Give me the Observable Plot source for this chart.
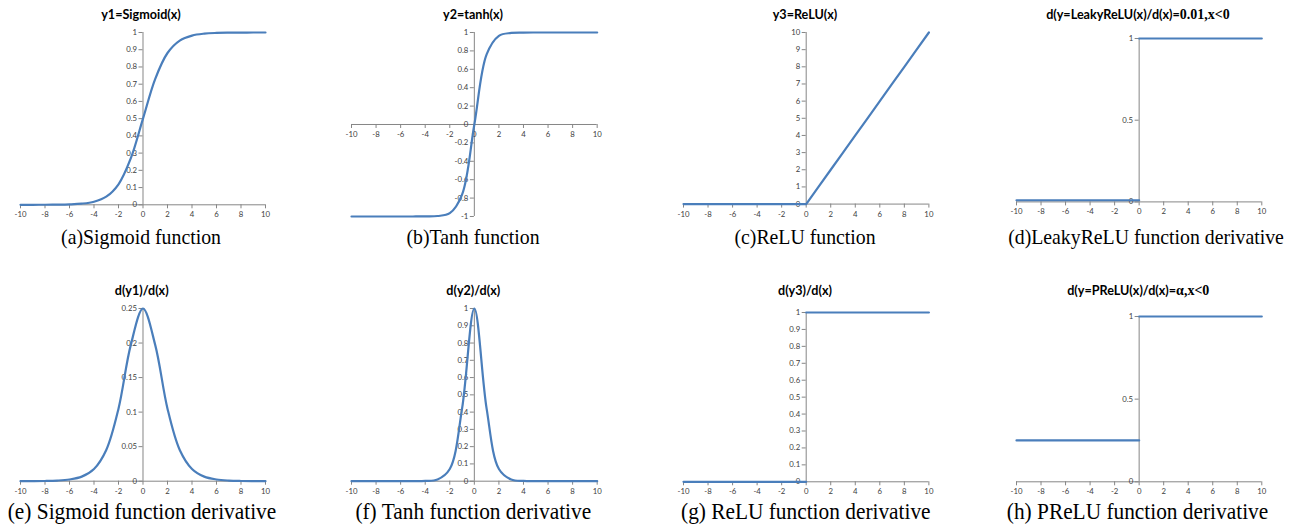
<!DOCTYPE html>
<html>
<head>
<meta charset="utf-8">
<script src="https://cdn.jsdelivr.net/npm/d3@7"></script>
<script src="https://cdn.jsdelivr.net/npm/@observablehq/plot@0.6"></script>
<style>
  html, body { margin: 0; padding: 0; background: #fff; }
  #root { position: relative; width: 1299px; height: 528px; overflow: hidden; background: #fff; }
  #root svg.panel { position: absolute; }
  #overlay { position: absolute; left: 0; top: 0; pointer-events: none; }
</style>
</head>
<body>
<div id="root"></div>
<script>
// ---------------- data ----------------
const xs = [-10,-9,-8,-7,-6,-5,-4,-3,-2,-1,0,1,2,3,4,5,6,7,8,9,10];
const sigmoidY = [0.00005,0.0001,0.0003,0.0009,0.0025,0.0067,0.018,0.047,0.119,0.269,0.5,0.731,0.881,0.953,0.982,0.9933,0.9975,0.9991,0.9997,0.9999,1.0];
const tanhY = [-1,-1,-1,-1,-1,-0.9999,-0.999,-0.995,-0.964,-0.762,0,0.762,0.964,0.995,0.999,0.9999,1,1,1,1,1];
const reluY = [0,0,0,0,0,0,0,0,0,0,0,1,2,3,4,5,6,7,8,9,10];
const dSigmoidY = [0.00005,0.0001,0.0003,0.0009,0.0025,0.0066,0.0177,0.0452,0.105,0.197,0.25,0.197,0.105,0.0452,0.0177,0.0066,0.0025,0.0009,0.0003,0.0001,0.00005];
const dTanhY = [0,0,0,0,0,0.0002,0.0013,0.0099,0.0707,0.42,1,0.42,0.0707,0.0099,0.0013,0.0002,0,0,0,0,0];

const stepX = [-10, 0, 0, 10];
const stepSeg = ["neg", "neg", "pos", "pos"];
const dLeakyY = [0.01, 0.01, 1, 1];
const dReluY = [0, 0, 1, 1];
const dPreluY = [0.25, 0.25, 1, 1];

const xTicks = [-10,-8,-6,-4,-2,0,2,4,6,8,10];
const yTicksSigmoid = [0,0.1,0.2,0.3,0.4,0.5,0.6,0.7,0.8,0.9,1];
const yTicksTanh = [-1,-0.8,-0.6,-0.4,-0.2,0,0.2,0.4,0.6,0.8,1];
const yTicksRelu = [0,1,2,3,4,5,6,7,8,9,10];
const yTicksHalf = [0,0.5,1];
const yTicksDSigmoid = [0,0.05,0.1,0.15,0.2,0.25];

const titles = ["y1=Sigmoid(x)", "y2=tanh(x)", "y3=ReLU(x)", "d(y=LeakyReLU(x)/d(x)=", "d(y1)/d(x)", "d(y2)/d(x)", "d(y3)/d(x)", "d(y=PReLU(x)/d(x)="];
const titleTails = ["", "", "", "0.01,x<0", "", "", "", "\u03b1,x<0"];
const captions = ["(a)Sigmoid function", "(b)Tanh function", "(c)ReLU function", "(d)LeakyReLU function derivative",
                  "(e) Sigmoid function derivative", "(f) Tanh function derivative", "(g) ReLU function derivative", "(h) PReLU function derivative"];

// ---------------- style / layout ----------------
const BLUE = "#4a7ebb";
const GRAY = "#868686";
const LABEL = "#404040";

const panels = [
  {frame: [20, 265, 31.7, 204], yDomain: [0, 1], yTicks: yTicksSigmoid, kind: "curve", y: sigmoidY},
  {frame: [351, 596.7, 31.7, 215.7], yDomain: [-1, 1], yTicks: yTicksTanh, kind: "curve", y: tanhY},
  {frame: [683.3, 928.7, 31.7, 203.3], yDomain: [0, 10], yTicks: yTicksRelu, kind: "linear", y: reluY},
  {frame: [1015.7, 1261, 38.3, 201.7], yDomain: [0, 1], yTicks: yTicksHalf, kind: "step", y: dLeakyY},
  {frame: [20, 265, 308.3, 481], yDomain: [0, 0.25], yTicks: yTicksDSigmoid, kind: "curve", y: dSigmoidY},
  {frame: [351, 596.7, 308.3, 481], yDomain: [0, 1], yTicks: yTicksSigmoid, kind: "curve", y: dTanhY},
  {frame: [683.3, 928.7, 311.7, 481], yDomain: [0, 1], yTicks: yTicksSigmoid, kind: "step", y: dReluY},
  {frame: [1015.7, 1261, 315.7, 481], yDomain: [0, 1], yTicks: yTicksHalf, kind: "step", y: dPreluY}
];
const titleLayout = [[141, 19], [473, 19], [805, 19], [1138, 19], [141.7, 295], [473.3, 295], [805, 295], [1138.3, 295]];
const captionLayout = [[141, 244, 22, 0.9], [473, 244, 22, 0.9], [805, 244, 22, 0.9], [1146, 244, 22, 0.9],
                       [142, 519, 24, 0.89], [473.3, 519, 24, 0.89], [805.8, 519, 24, 0.89], [1137.5, 519, 24, 0.89]];

const root = document.getElementById("root");
const M = {l: 22, r: 22, t: 8, b: 22};

panels.forEach((p) => {
  const [x0, x1, y0, y1] = p.frame;
  let data, lineMark;
  if (p.kind === "step") {
    data = stepX.map((x, i) => ({x, y: p.y[i], seg: stepSeg[i]}));
    lineMark = Plot.line(data, {x: "x", y: "y", z: "seg", stroke: BLUE, strokeWidth: 2.2});
  } else {
    data = xs.map((x, i) => ({x, y: p.y[i]}));
    lineMark = Plot.line(data, {x: "x", y: "y", stroke: BLUE, strokeWidth: 2.2,
      curve: p.kind === "curve" ? "catmull-rom" : "linear"});
  }
  const [ymin, ymax] = p.yDomain;
  const svg = Plot.plot({
    width: x1 - x0 + M.l + M.r,
    height: y1 - y0 + M.t + M.b,
    marginLeft: M.l, marginRight: M.r, marginTop: M.t, marginBottom: M.b,
    x: {domain: [-10, 10], axis: null},
    y: {domain: p.yDomain, axis: null},
    style: {background: "transparent", overflow: "visible", fontFamily: "Lato", fontSize: "7.8px"},
    marks: [
      // axis lines
      Plot.ruleY([0], {x1: -10, x2: 10, stroke: GRAY, strokeWidth: 1}),
      Plot.ruleX([0], {y1: ymin, y2: ymax, stroke: GRAY, strokeWidth: 1}),
      // x ticks (below the horizontal axis)
      Plot.ruleX(xTicks, {x: (d) => d, y1: () => 0, y2: () => 0, insetTop: 0, insetBottom: -4, stroke: GRAY}),
      // y ticks (left of the vertical axis)
      Plot.ruleY(p.yTicks, {y: (d) => d, x1: () => 0, x2: () => 0, insetLeft: -4, insetRight: 0, stroke: GRAY}),
      // tick labels
      Plot.text(xTicks, {x: (d) => d, y: () => 0, dy: 10, text: (d) => String(d), fill: LABEL, textAnchor: "middle"}),
      Plot.text(p.yTicks, {x: () => 0, y: (d) => d, dx: -6, text: (d) => String(d), fill: LABEL, textAnchor: "end"}),
      lineMark
    ]
  });
  svg.classList.add("panel");
  svg.style.left = (x0 - M.l) + "px";
  svg.style.top = (y0 - M.t) + "px";
  svg.style.maxWidth = "none";
  root.appendChild(svg);
});

// titles and captions overlay
const NS = "http://www.w3.org/2000/svg";
const ov = document.createElementNS(NS, "svg");
ov.setAttribute("id", "overlay");
ov.setAttribute("width", 1299);
ov.setAttribute("height", 528);
root.appendChild(ov);
titles.forEach((t, i) => {
  const [cx, by] = titleLayout[i];
  const el = document.createElementNS(NS, "text");
  el.setAttribute("x", cx);
  el.setAttribute("y", by);
  el.setAttribute("text-anchor", "middle");
  el.setAttribute("font-family", "Lato");
  el.setAttribute("font-weight", "bold");
  el.setAttribute("font-size", "12.6");
  el.setAttribute("fill", "#000");
  el.appendChild(document.createTextNode(t));
  if (titleTails[i]) {
    const ts = document.createElementNS(NS, "tspan");
    ts.setAttribute("font-family", "Liberation Serif");
    ts.setAttribute("font-size", "14");
    ts.textContent = titleTails[i];
    el.appendChild(ts);
  }
  ov.appendChild(el);
});
captions.forEach((c, i) => {
  const [cx, by, fs, sx] = captionLayout[i];
  const el = document.createElementNS(NS, "text");
  el.setAttribute("transform", `translate(${cx},${by}) scale(${sx},1)`);
  el.setAttribute("text-anchor", "middle");
  el.setAttribute("font-family", "Liberation Serif");
  el.setAttribute("font-size", fs);
  el.setAttribute("fill", "#000");
  el.textContent = c;
  ov.appendChild(el);
});
</script>
</body>
</html>
